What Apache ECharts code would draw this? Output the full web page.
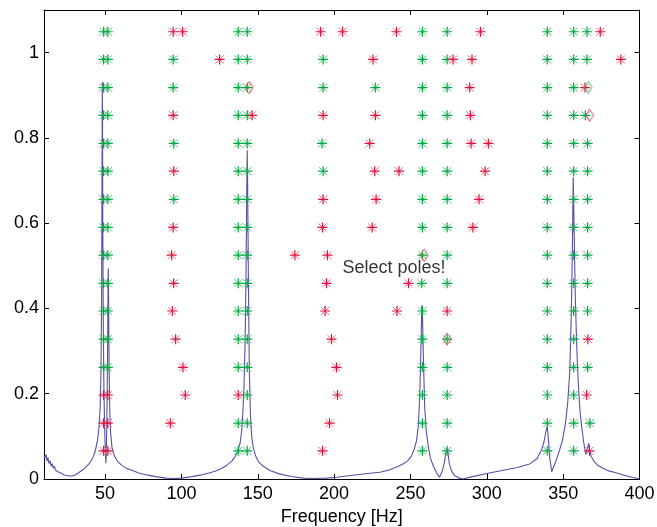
<!DOCTYPE html>
<html>
<head>
<meta charset="utf-8">
<script src="https://cdn.jsdelivr.net/npm/echarts@6/dist/echarts.min.js"></script>
<style>
html,body{margin:0;padding:0;background:#fff;}
#chart{width:657px;height:527px;}
</style>
</head>
<body>
<div id="chart"></div>
<script>
// Stabilisation levels (rows), bottom to top
const rowLevels = [0.066, 0.131, 0.197, 0.262, 0.328, 0.394, 0.459, 0.525,
                   0.590, 0.656, 0.722, 0.787, 0.853, 0.918, 0.984, 1.049];

// Stable poles (green) per row, frequencies in Hz
const stableByRow = [
  [137.2, 143.1, 257.8, 274, 339.6, 356.9],
  [137.2, 143.1, 257.8, 274, 339.6, 356.9, 367.5],
  [143.1, 257.8, 274, 339.6, 356.9],
  [49, 51.8, 137.2, 143.1, 257.8, 274, 339.6, 356.9, 366],
  [49, 51.8, 137.2, 143.1, 257.8, 274, 339.6, 356.9],
  [49, 51.8, 137.2, 143.1, 257.8, 339.6, 356.9, 366],
  [49, 51.8, 137.2, 143.1, 257.4, 274, 339.6, 356.9, 366],
  [49, 51.8, 137.2, 143.1, 257.8, 274, 339.6, 356.9, 366],
  [49, 51.8, 137.2, 143.1, 257.8, 274, 339.6, 356.9, 366],
  [49, 51.8, 95, 137.2, 143.1, 257.8, 274, 339.6, 356.9, 366],
  [49, 51.8, 137.2, 143.1, 192.8, 257.8, 274, 339.6, 356.9, 366],
  [49, 51.8, 95, 137.2, 143.1, 192.1, 257.8, 274, 339.6, 356.9, 366],
  [49, 51.8, 137.2, 143.1, 257.8, 274, 339.6, 356.9, 364.5],
  [49, 51.8, 94.6, 137.2, 143.1, 192.8, 227, 257.8, 274, 339.6, 356.9],
  [49, 51.8, 94.6, 137.2, 143.1, 192.8, 257.8, 274, 339.6, 356.9, 365.6],
  [49, 51.8, 137.2, 143.1, 257.8, 274, 339.6, 356.9, 365.6]
];

// Unstable poles (red) per row
const unstableByRow = [
  [49, 51.8, 192.4, 367.2],
  [49, 51.8, 92.7, 197],
  [49, 51.8, 102.5, 137.2, 202.2, 365.4],
  [101, 201.5],
  [96.2, 198.3, 366.2],
  [94, 194.1, 241.2, 274],
  [94.9, 195, 248.7],
  [93.6, 174.3, 195.6],
  [94.6, 192.4, 224.9, 290.9],
  [192.8, 227.5, 294.9],
  [95, 226.6, 242.5, 298.9],
  [223.3, 289.7, 301],
  [94.6, 146.3, 192.8, 227, 289.2],
  [288.8, 364.3],
  [125, 225.5, 277.9, 290.3, 387.8],
  [94.6, 100.8, 191.1, 205.5, 240.8, 295.8, 374.3]
];

// Selected poles (diamonds): [frequency, row index]
const selectedRed = [[274, 4], [259, 7], [367.3, 12], [144.4, 13]];
const selectedGreen = [[366.4, 13]];

// Frequency response magnitude curve
const frfFreq = [10, 10.7, 11.3, 12, 12.6, 13.3, 14, 14.7, 15.4, 16.1, 16.8, 17.5, 18.3, 19.2, 20, 21, 22, 23, 24, 26, 28, 30, 32, 34, 36, 38, 40, 42, 43.5, 45, 46, 46.8, 47.3, 47.7, 47.95, 48.1, 48.2, 48.3, 48.5, 48.8, 49.2, 49.7, 50.2, 50.6, 51.0, 51.4, 51.75, 52.0, 52.1, 52.25, 52.6, 53.0, 53.6, 54.5, 56, 58, 61, 64, 68, 72, 78, 84, 90, 94.5, 100, 106, 112, 118, 122, 126, 130, 133, 135, 136.5, 137, 137.5, 138.5, 139.5, 140.3, 141, 141.7, 142.3, 142.8, 143.1, 143.4, 143.9, 144.5, 145.2, 146, 147, 148.5, 150.5, 153.5, 158, 164, 172, 180, 186, 195, 202, 208, 215, 222, 230, 236, 241, 245, 248, 250.5, 252.5, 254, 255, 255.8, 256.5, 257, 257.4, 257.6, 257.9, 258.5, 259.3, 260.3, 261.5, 263, 265, 267, 269, 270.5, 272, 273.2, 274, 274.6, 275.5, 277, 279, 282, 284.5, 290, 300, 310, 320, 328, 333, 336, 337.5, 338.7, 339.6, 340.2, 341.2, 342.5, 344.5, 347, 349.5, 351.5, 353, 354.3, 355.3, 356, 356.6, 357.2, 358, 359, 360, 361, 362.2, 363.5, 364.8, 365.4, 366.2, 366.7, 367.3, 368.5, 370.5, 373, 376, 380, 385, 390, 395, 400];
const frfMag = [0.055, 0.05, 0.058, 0.042, 0.05, 0.036, 0.043, 0.03, 0.036, 0.025, 0.03, 0.021, 0.025, 0.017, 0.02, 0.014, 0.015, 0.01, 0.01, 0.007, 0.007, 0.009, 0.013, 0.018, 0.023, 0.03, 0.038, 0.05, 0.065, 0.09, 0.12, 0.17, 0.25, 0.4, 0.65, 0.85, 0.931, 0.85, 0.6, 0.38, 0.22, 0.12, 0.06, 0.037, 0.1, 0.2, 0.35, 0.47, 0.494, 0.44, 0.28, 0.17, 0.11, 0.075, 0.055, 0.042, 0.032, 0.025, 0.02, 0.014, 0.009, 0.005, 0.002, 0.001, 0.002, 0.005, 0.009, 0.014, 0.018, 0.024, 0.033, 0.042, 0.052, 0.062, 0.058, 0.066, 0.085, 0.115, 0.16, 0.22, 0.32, 0.48, 0.68, 0.771, 0.68, 0.45, 0.25, 0.15, 0.1, 0.075, 0.055, 0.04, 0.03, 0.02, 0.012, 0.006, 0.002, 0.001, 0.002, 0.004, 0.007, 0.01, 0.013, 0.016, 0.021, 0.028, 0.035, 0.042, 0.053, 0.07, 0.09, 0.12, 0.17, 0.25, 0.33, 0.4, 0.408, 0.38, 0.28, 0.17, 0.115, 0.08, 0.05, 0.03, 0.015, 0.004, 0.015, 0.035, 0.06, 0.072, 0.06, 0.035, 0.018, 0.008, 0.002, 0.0, 0.005, 0.013, 0.02, 0.027, 0.035, 0.048, 0.07, 0.088, 0.112, 0.123, 0.1, 0.05, 0.017, 0.035, 0.06, 0.09, 0.13, 0.18, 0.25, 0.38, 0.53, 0.708, 0.58, 0.42, 0.3, 0.22, 0.16, 0.12, 0.085, 0.058, 0.055, 0.075, 0.084, 0.068, 0.052, 0.04, 0.031, 0.025, 0.019, 0.014, 0.009, 0.004, 0.0];

const xTicks = [50, 100, 150, 200, 250, 300, 350, 400];
const yTicks = [0, 0.2, 0.4, 0.6, 0.8, 1];
const annotation = {text: 'Select poles!', freq: 205.5, level: 0.495};

// ---- build data ----
function rowsToPoints(byRow) {
  const out = [];
  byRow.forEach((fs, i) => fs.forEach(f => out.push([f, rowLevels[i]])));
  return out;
}
const stablePts = rowsToPoints(stableByRow);
const unstablePts = rowsToPoints(unstableByRow);
const selRedPts = selectedRed.map(p => [p[0], rowLevels[p[1]]]);
const selGreenPts = selectedGreen.map(p => [p[0], rowLevels[p[1]]]);
const frfPts = frfFreq.map((f, i) => [f, frfMag[i]]);

const GREEN = '#00a843';
const GREEN_L = '#4cc877';
const RED = '#e0103a';
const RED_L = '#ec6985';
const PLUS = 'path://M0,-10L0,10M-10,0L10,0';
const CROSS = 'path://M-7,-7L7,7M-7,7L7,-7';
const FONT = 'Liberation Sans, Arial, Helvetica, sans-serif';

function starSeries(data, sym, color, size, z, w) {
  return {
    type: 'scatter', data: data, symbol: sym, symbolSize: size, z: z,
    itemStyle: {color: 'rgba(0,0,0,0)', borderColor: color, borderWidth: w, opacity: 1},
    emphasis: {disabled: true}, silent: true, animation: false
  };
}

const chart = echarts.init(document.getElementById('chart'), null, {renderer: 'canvas'});
chart.setOption({
  animation: false,
  backgroundColor: '#ffffff',
  grid: {left: 44, top: 10, width: 595.5, height: 469, containLabel: false, outerBoundsMode: 'none'},
  xAxis: [{
    type: 'value', min: 10, max: 400, position: 'bottom',
    name: 'Frequency [Hz]', nameLocation: 'middle', nameGap: 27,
    nameTextStyle: {fontFamily: FONT, fontSize: 18, color: '#000'},
    axisLine: {show: true, onZero: false, lineStyle: {color: '#000', width: 1}},
    axisTick: {show: true, inside: true, length: 5, customValues: xTicks, lineStyle: {color: '#000'}},
    axisLabel: {show: true, customValues: xTicks, margin: 6, fontFamily: FONT, fontSize: 18, color: '#000'},
    splitLine: {show: false}
  }, {
    type: 'value', min: 10, max: 400, position: 'top',
    axisLine: {show: true, onZero: false, lineStyle: {color: '#000', width: 1}},
    axisTick: {show: true, inside: true, length: 5, customValues: xTicks, lineStyle: {color: '#000'}},
    axisLabel: {show: false}, splitLine: {show: false}
  }],
  yAxis: [{
    type: 'value', min: 0, max: 1.1, position: 'left',
    axisLine: {show: true, onZero: false, lineStyle: {color: '#000', width: 1}},
    axisTick: {show: true, inside: true, length: 5, customValues: yTicks, lineStyle: {color: '#000'}},
    axisLabel: {show: true, customValues: yTicks, margin: 5, fontFamily: FONT, fontSize: 18, color: '#000'},
    splitLine: {show: false}
  }, {
    type: 'value', min: 0, max: 1.1, position: 'right',
    axisLine: {show: true, onZero: false, lineStyle: {color: '#000', width: 1}},
    axisTick: {show: true, inside: true, length: 5, customValues: yTicks, lineStyle: {color: '#000'}},
    axisLabel: {show: false}, splitLine: {show: false}
  }],
  series: [
    {
      type: 'line', data: frfPts, showSymbol: false, symbol: 'none', z: 1,
      lineStyle: {color: '#5a4fa6', width: 1.1}, silent: true, animation: false
    },
    starSeries(stablePts, CROSS, GREEN_L, 8, 2, 1),
    starSeries(stablePts, PLUS, GREEN, 10, 3, 1.2),
    starSeries(unstablePts, CROSS, RED_L, 8, 2, 1),
    starSeries(unstablePts, PLUS, RED, 10, 3, 1.2),
    {
      type: 'scatter', data: selRedPts, symbol: 'diamond', symbolSize: [8, 12], z: 4,
      itemStyle: {color: 'rgba(0,0,0,0)', borderColor: '#e8404e', borderWidth: 1},
      silent: true, animation: false
    },
    {
      type: 'scatter', data: selGreenPts, symbol: 'diamond', symbolSize: [8, 12], z: 4,
      itemStyle: {color: 'rgba(0,0,0,0)', borderColor: '#2fbf60', borderWidth: 1},
      silent: true, animation: false
    },
    {
      type: 'scatter', data: [[annotation.freq, annotation.level]], symbolSize: 0, z: 5,
      label: {show: true, position: 'right', distance: 0, formatter: annotation.text,
              fontFamily: FONT, fontSize: 18, color: '#000', textBorderWidth: 0},
      silent: true, animation: false
    }
  ]
});
</script>
</body>
</html>
